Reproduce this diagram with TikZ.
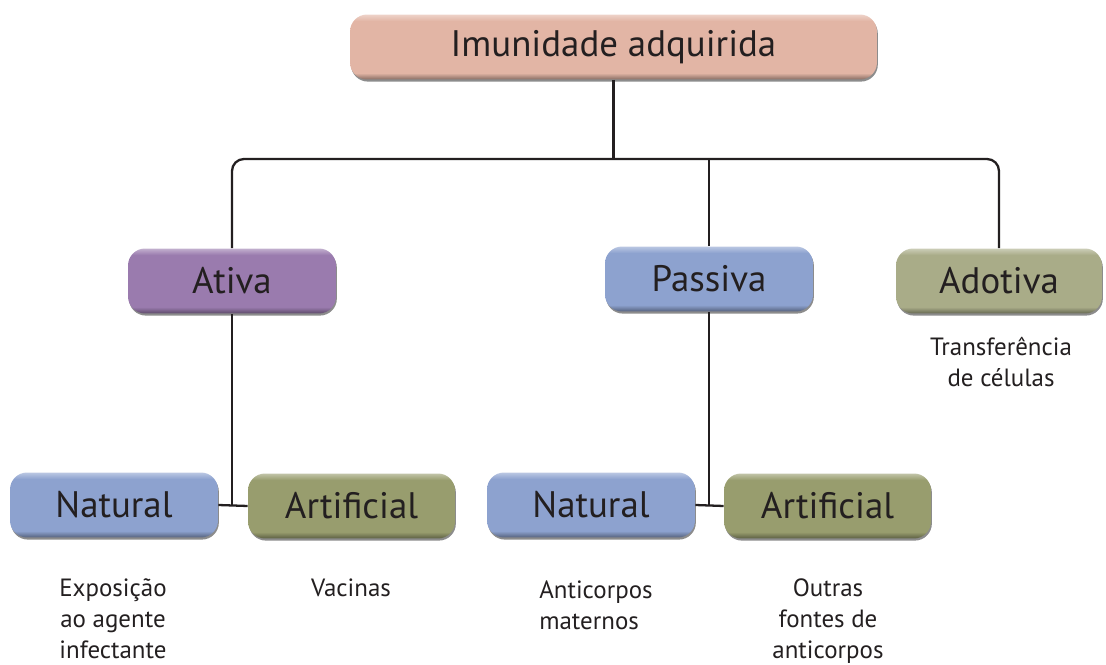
\documentclass[tikz,border=0pt]{standalone}
\usepackage{fontspec}
\setmainfont{PT Sans}
\usetikzlibrary{shadows}

\definecolor{inkgray}{HTML}{231F20}
\definecolor{salmon}{HTML}{E2B5A5}
\definecolor{lilac}{HTML}{9A7BAE}
\definecolor{skyblue}{HTML}{8DA2CF}
\definecolor{olive}{HTML}{989D6E}
\definecolor{sage}{HTML}{A9AC88}

% bevelled fill, colours are set per box
\colorlet{bevelmid}{gray}\colorlet{beveltop}{white}\colorlet{bevelbot}{black}
\pgfdeclareverticalshading[bevelbot,bevelmid,beveltop]{bevel}{100bp}{%
  color(0bp)=(bevelbot); color(25bp)=(bevelbot); color(30bp)=(bevelmid);
  color(70bp)=(bevelmid); color(75bp)=(beveltop); color(100bp)=(beveltop)}

\begin{document}
\begin{tikzpicture}[x=0.02cm,y=-0.02cm]

    \tikzset{
      tint/.code={%
        \colorlet{bevelmid}{#1}%
        \colorlet{beveltop}{#1!60!white}%
        \colorlet{bevelbot}{#1!60!black}},
      box/.style={
        tint=#1,
        shade,
        shading=bevel,
        rounded corners=0.34cm,
        minimum width=4.16cm,
        minimum height=1.3cm,
        inner sep=0pt,
        text=inkgray,
        font=\fontsize{21}{25}\selectfont,
        drop shadow={shadow xshift=0.5pt,shadow yshift=-1.2pt,fill=black,opacity=0.45},
      },
      note/.style={
        align=center,
        anchor=north,
        inner sep=0pt,
        text=inkgray,
        font=\fontsize{14.2}{17.8}\selectfont,
      },
      link/.style={line width=1.3pt,draw=inkgray},
    }
    \useasboundingbox (0,0) rectangle (1106,665);

    % boxes
    \node[box=salmon,minimum width=10.54cm] (top) at (613.5,47) {Imunidade adquirida};
    \node[box=lilac] (ativa) at (232,281) {Ativa};
    \node[box=skyblue] (passiva) at (709,279) {Passiva};
    \node[box=sage,minimum width=4.12cm] (adotiva) at (999,281) {Adotiva};
    \node[box=skyblue] (nat1) at (114,505) {Natural};
    \node[box=olive,minimum width=4.14cm] (art1) at (351.5,506) {Artificial};
    \node[box=skyblue] (nat2) at (591,505) {Natural};
    \node[box=olive,minimum width=4.14cm] (art2) at (827.5,506) {Artificial};

    % connectors
    \coordinate (bar) at (0,159);
    \draw[link] (top.south) -- (top.south |- bar);
    \draw[link,rounded corners=0.24cm] (ativa.north) -- (ativa.north |- bar) -- (adotiva.north |- bar) -- (adotiva.north);
    \draw[link] (passiva.north) -- (passiva.north |- bar);
    \draw[link] (ativa.south) -- (ativa.south |- nat1.east);
    \draw[link] (nat1.east) -- (art1.west);
    \draw[link] (passiva.south) -- (passiva.south |- nat2.east);
    \draw[link] (nat2.east) -- (art2.west);

    % notes
    \node[note] (transf) at (1001,333) {\strut Transferência\\de células};
    \node[note] (expo) at (113,574) {\strut Exposição\\ao agente\\infectante};
    \node[note] (vacinas) at (351,574) {\strut Vacinas};
    \node[note,align=left,anchor=north west] (matern) at (539,576) {\strut Anticorpos\\maternos};
    \node[note] (outras) at (828,574) {\strut Outras\\fontes de\\anticorpos};

\end{tikzpicture}
\end{document}
